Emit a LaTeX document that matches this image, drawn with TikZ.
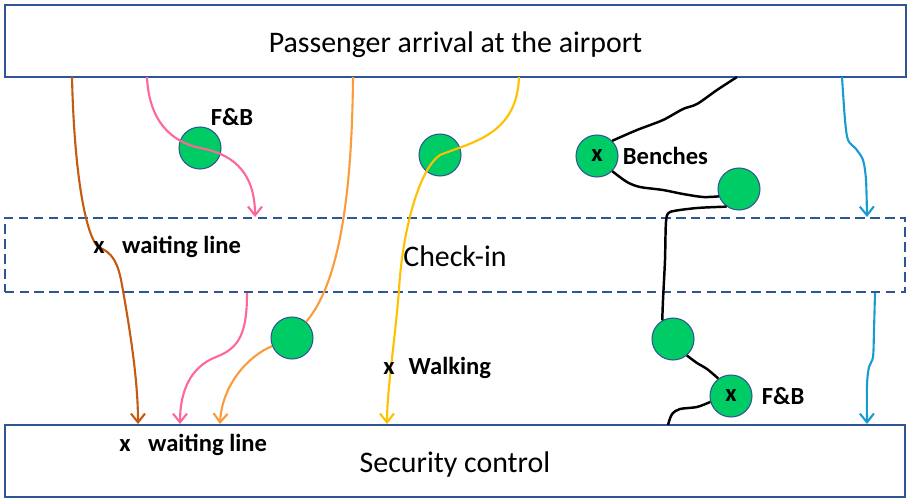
\documentclass[tikz,border=0pt]{standalone}
\usepackage{fontspec}
\setmainfont{Carlito}
\usetikzlibrary{arrows.meta, positioning}
\definecolor{FrameBlue}{RGB}{47,85,151}
\definecolor{SpotGreen}{RGB}{0,204,102}
\definecolor{PathBrown}{RGB}{197,90,17}
\definecolor{PathPink}{RGB}{255,102,153}
\definecolor{PathOrange}{RGB}{250,155,60}
\definecolor{PathYellow}{RGB}{255,192,0}
\definecolor{PathCyan}{RGB}{24,155,210}

\begin{document}
\begin{tikzpicture}[x=0.02cm, y=-0.02cm,
    stage/.style={draw=FrameBlue, line width=1.2pt, minimum width=18.02cm, minimum height=1.44cm, inner sep=0pt, text height=13.6pt, text depth=0pt, font=\fontsize{17}{20}\selectfont},
    spot/.style={circle, draw=FrameBlue, line width=0.6pt, fill=SpotGreen, minimum size=0.84cm, inner sep=0pt, font=\fontsize{14}{17}\bfseries},
    tag/.style={inner sep=0pt, font=\fontsize{14}{17}\bfseries},
    route/.style={line width=1.2pt, -{Straight Barb[length=5pt,width=8pt]}},
    walk/.style={line width=1.4pt, black}]
  \useasboundingbox (0,0) rectangle (909,500);

  % Stages
  \node[stage] (arrival) at (455.5,41) {Passenger arrival at the airport};
  \node[stage, dash pattern=on 5.5pt off 3pt, minimum height=1.48cm] (checkin) at (455,255) {Check-in};
  \node[stage] (security) at (455,461) {Security control};

  % Stops
  \node[spot] (fb1) at (200,148) {};
  \node[spot] (walk1) at (440,155) {};
  \node[spot] (bench) at (597,156) {x};
  \node[spot] (bench2) at (739,189) {};
  \node[spot] (fb2) at (292,338) {};
  \node[spot] (rest) at (673,339) {};
  \node[spot] (fb3) at (731,396) {x};

  % Path ends
  \coordinate (brTop) at (72,77);
  \coordinate (brEnd) at (138,424);
  \coordinate (pkTop) at (147,77);
  \coordinate (pkMid) at (255,217);
  \coordinate (pkLow) at (247,293);
  \coordinate (pkEnd) at (180,424);
  \coordinate (orTop) at (353,77);
  \coordinate (orEnd) at (220,424);
  \coordinate (yeTop) at (519,77);
  \coordinate (yeEnd) at (387,424);
  \coordinate (bkTop) at (737,77);
  \coordinate (bkEnd) at (668,425);
  \coordinate (cyTop) at (842,77);
  \coordinate (cyMid) at (867,217);
  \coordinate (cyLow) at (875,293);
  \coordinate (cyEnd) at (867,424);

  % Brown: straight to the queue
  \draw[route, PathBrown] (brTop) .. controls (74,165) and (84,232) .. (98,247) .. controls (112,252) and (118,262) .. (122,285) .. controls (130,330) and (138,380) .. (brEnd);

  % Pink: food first
  \draw[route, PathPink] (pkTop) .. controls (149,122) and (172,142) .. (fb1.center) .. controls (228,153) and (255,168) .. (pkMid);
  \draw[route, PathPink] (pkLow) .. controls (247,332) and (240,348) .. (216,357) .. controls (190,367) and (180,392) .. (pkEnd);

  % Orange
  \draw[line width=1.2pt, PathOrange] (orTop) .. controls (352,200) and (338,285) .. (fb2);
  \draw[route, PathOrange] (fb2) .. controls (248,356) and (222,385) .. (orEnd);

  % Yellow
  \draw[route, PathYellow] (yeTop) .. controls (517,135) and (472,142) .. (walk1.center) .. controls (418,170) and (402,235) .. (399,290) .. controls (395,340) and (387,390) .. (yeEnd);

  % Black: benches and food
  \draw[walk] plot[smooth, tension=0.5] coordinates {(bkTop) (717,90) (697,104) (683,109) (663,120) (637,130) (bench.north east)};
  \draw[walk] plot[smooth, tension=0.5] coordinates {(bench.south east) (627,182) (640,187) (663,190) (683,194) (703,197) (bench2.200)};
  \draw[walk] plot[smooth, tension=0.4] coordinates {(bench2.235) (697,208) (670,212) (666,222) (665,260) (663,300) (rest.120)};
  \draw[walk] plot[smooth, tension=0.5] coordinates {(rest.-50) (697,363) (707,369) (fb3.126)};
  \draw[walk] plot[smooth, tension=0.5] coordinates {(fb3.196) (697,407) (680,409) (672,414) (bkEnd)};

  % Cyan
  \draw[route, PathCyan] plot[smooth, tension=0.5] coordinates {(cyTop) (845,120) (848,140) (856,149) (863,160) (866,180) (cyMid)};
  \draw[route, PathCyan] plot[smooth, tension=0.5] coordinates {(cyLow) (874,330) (873,357) (869,367) (867,385) (cyEnd)};

  % Labels
  \node[tag] (fb1lbl) at (232,117) {F\&B};
  \node[tag, anchor=west] (queue1) at (93,247) {x\hspace{10pt}waiting line};
  \node[tag, right=0.08cm of bench] (benchlbl) {Benches};
  \node[tag, anchor=west] (walklbl) at (383,368) {x\hspace{8pt}Walking};
  \node[tag, right=0.18cm of fb3] (fb3lbl) {F\&B};
  \node[tag, anchor=west] (queue2) at (119,445) {x\hspace{10pt}waiting line};
\end{tikzpicture}
\end{document}
